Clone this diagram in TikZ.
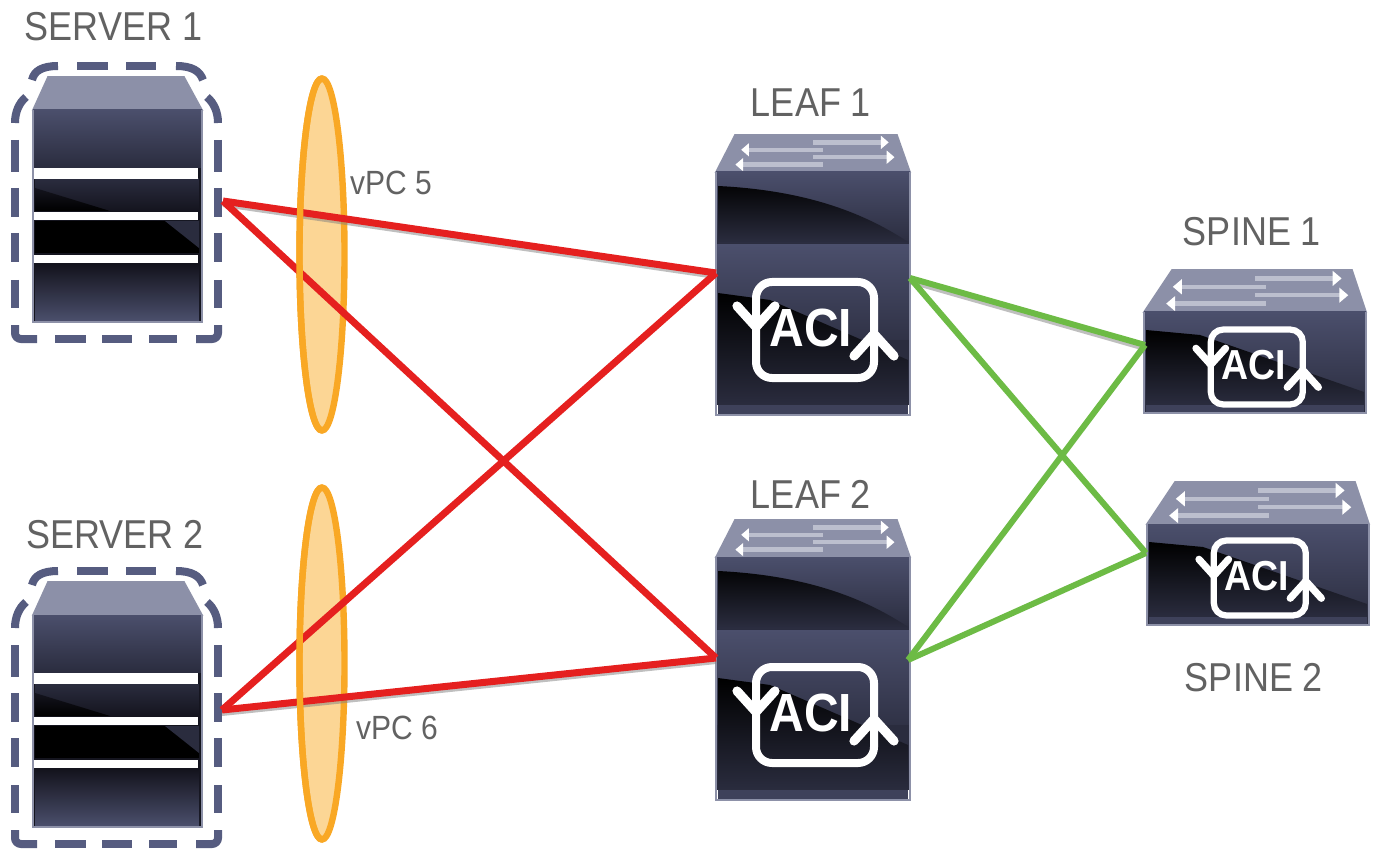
\documentclass[tikz,border=0pt]{standalone}
\usepackage{fontspec}
\setmainfont{Liberation Sans}
\usetikzlibrary{calc,shapes.geometric}
\definecolor{edgeg}{HTML}{8D91A8}
\definecolor{topg}{HTML}{8C90A8}
\definecolor{barg}{HTML}{BCBFCE}
\definecolor{bodyhi}{HTML}{4B4F6C}
\definecolor{bodymid}{HTML}{2A2C3E}
\definecolor{bodylo}{HTML}{14141E}
\definecolor{dashc}{HTML}{565C80}
\definecolor{redl}{HTML}{E5201F}
\definecolor{greenl}{HTML}{6DBB45}
\definecolor{orgl}{HTML}{F9A825}
\definecolor{orgf}{HTML}{FCD695}
\definecolor{labelc}{HTML}{626262}
\newcommand{\tallt}[1]{\scalebox{1}[1.12]{#1}}
\tikzset{
  x=0.5pt,y=-0.5pt,
  bigl/.style={text=labelc,font=\fontsize{18}{18}\selectfont,inner sep=0pt,anchor=center},
  smalll/.style={text=labelc,font=\fontsize{15}{15}\selectfont,inner sep=0pt,anchor=center},
  redlink/.style={draw=redl,line width=3.5pt},
  greenlink/.style={draw=greenl,line width=3pt},
  linkshadow/.style={draw=black!50,line width=2pt,opacity=.5},
  dashseg/.style={draw=dashc,line width=4pt},
  bundle/.style={draw=orgl,line width=3.2pt,fill=orgf,ellipse,minimum width=22.5pt,minimum height=176pt,inner sep=0pt,outer sep=0pt},
  rimline/.style={draw=orgl,line width=3.2pt},
}
% server: #1 = vertical offset in px
\newcommand{\serverbox}[1]{
\begin{scope}[yshift=-#1*0.5pt]
  \fill[topg,draw=edgeg,line width=.8pt] (48,77)--(184,77)--(202,110)--(33,110)--cycle;
  \shade[top color=bodyhi,bottom color=bodymid] (33,110) rectangle (202,168);
  \fill[bodylo] (33,168) rectangle (202,322);
  \shade[top color=bodymid,bottom color=bodylo] (35,179) rectangle (199,211);
  \shade[top color=bodylo,bottom color=black] (35,188)--(110,211)--(35,211)--cycle;
  \fill[black] (35,221) rectangle (199,253);
  \fill[bodymid] (165,221)--(199,221)--(199,248)--cycle;
  \shade[top color=bodylo,bottom color=bodyhi] (35,265) rectangle (199,321);
  \fill[white] (34,168) rectangle (198,179);
  \fill[white] (34,212) rectangle (198,220);
  \fill[white] (34,255) rectangle (198,263);
  \draw[edgeg,line width=1.2pt] (33,110)--(33,322)--(202,322)--(202,110);
  % dashed frame, dash by dash
  \draw[dashseg] (32,80) .. controls (34,71) and (42,66) .. (58,66);
  \draw[dashseg] (77,66)--(108,66) (126,66)--(156,66);
  \draw[dashseg] (176,66) .. controls (192,66) and (200,71) .. (203,80);
  \draw[dashseg] (15,123) .. controls (15,112) and (19,103) .. (26,97);
  \draw[dashseg] (207,97) .. controls (214,103) and (218,112) .. (218,123);
  \draw[dashseg] (15,140)--(15,172) (15,188)--(15,217) (15,233)--(15,262) (15,280)--(15,308);
  \draw[dashseg] (218,140)--(218,172) (218,188)--(218,217) (218,233)--(218,262) (218,280)--(218,308);
  \draw[dashseg,rounded corners=3pt] (15,325)--(15,339)--(37,339);
  \draw[dashseg] (55,339)--(86,339) (102,339)--(132,339) (149,339)--(177,339);
  \draw[dashseg,rounded corners=3pt] (196,339)--(218,339)--(218,325);
\end{scope}}
% arrows of a top face: x-left, x-right, y-top, y-bottom
\newcommand{\arrowbars}[4]{
  \pgfmathsetmacro{\xa}{#1}\pgfmathsetmacro{\xb}{#2}\pgfmathsetmacro{\ya}{#3}\pgfmathsetmacro{\yb}{#4}
  \pgfmathsetmacro{\xw}{\xb-\xa}\pgfmathsetmacro{\yh}{\yb-\ya}
  \begin{scope}[draw=barg,line width=2.2pt]
    \draw ({\xa+.50*\xw},{\ya+.20*\yh})--({\xa+.87*\xw},{\ya+.20*\yh});
    \draw ({\xa+.15*\xw},{\ya+.40*\yh})--({\xa+.55*\xw},{\ya+.40*\yh});
    \draw ({\xa+.50*\xw},{\ya+.60*\yh})--({\xa+.90*\xw},{\ya+.60*\yh});
    \draw ({\xa+.12*\xw},{\ya+.80*\yh})--({\xa+.55*\xw},{\ya+.80*\yh});
  \end{scope}
  \fill[white] ({\xa+.85*\xw},{\ya+.02*\yh})--({\xa+.89*\xw},{\ya+.20*\yh})--({\xa+.85*\xw},{\ya+.38*\yh})--cycle;
  \fill[white] ({\xa+.88*\xw},{\ya+.42*\yh})--({\xa+.92*\xw},{\ya+.60*\yh})--({\xa+.88*\xw},{\ya+.78*\yh})--cycle;
  \fill[white] ({\xa+.17*\xw},{\ya+.22*\yh})--({\xa+.13*\xw},{\ya+.40*\yh})--({\xa+.17*\xw},{\ya+.58*\yh})--cycle;
  \fill[white] ({\xa+.14*\xw},{\ya+.62*\yh})--({\xa+.10*\xw},{\ya+.80*\yh})--({\xa+.14*\xw},{\ya+.98*\yh})--cycle;
}
% aci loop: centre x, centre y, scale
\newcommand{\aciloop}[3]{
\pgfmathsetmacro{\acifs}{24*#3}
\pgfmathsetmacro{\aciw}{4*#3}
\pgfmathsetmacro{\aciaw}{4.6*#3}
\pgfmathsetmacro{\acir}{8*#3}
\begin{scope}[shift={(#1,#2)},scale=#3]
  \draw[white,line width=\aciw pt,rounded corners=\acir pt] (-58,-3)--(-58,-48)--(60,-48)--(60,4);
  \draw[white,line width=\aciw pt,rounded corners=\acir pt] (60,4)--(60,48)--(-58,48)--(-58,-3);
  \draw[white,line width=\aciaw pt,line cap=round,line join=round] (-77,-24)--(-58,-3)--(-39,-24);
  \draw[white,line width=\aciaw pt,line cap=round,line join=round] (40,26)--(60,4)--(80,26);
  \node[text=white,font=\bfseries\fontsize{\acifs}{\acifs}\selectfont,inner sep=0pt] at (-3,-2) {\tallt{ACI}};
\end{scope}}
% leaf: vertical offset
\newcommand{\leafdev}[1]{
\begin{scope}[yshift=-#1*0.5pt]
  \fill[topg,draw=edgeg,line width=.8pt] (735,135)--(897,135)--(910,172)--(716,172)--cycle;
  \arrowbars{716}{910}{135}{172}
  \shade[top color=bodyhi,bottom color=bodymid] (716,172) rectangle (910,245);
  \shade[top color=black!90!bodymid,bottom color=bodymid] (718,186) .. controls (800,190) and (860,210) .. (908,242)--(718,242)--cycle;
  \shade[top color=bodyhi,bottom color=bodymid] (716,245) rectangle (910,360);
  \fill[bodymid] (716,340) rectangle (910,405);
  \shade[top color=black,bottom color=bodymid] (718,293)--(770,300)--(908,360)--(908,405)--(718,405)--cycle;
  \fill[bodyhi!60!bodymid] (718,405) rectangle (908,414);
  \draw[edgeg,line width=1.2pt] (716,172)--(716,415)--(910,415)--(910,172);
  \aciloop{814}{330}{1}
\end{scope}}
% spine: x offset, y offset, loop centre x, loop centre y
\newcommand{\spinedev}[4]{
\begin{scope}[xshift=#1*0.5pt,yshift=-#2*0.5pt]
  \fill[topg,draw=edgeg,line width=.8pt] (1172,270)--(1352,270)--(1366,312)--(1144,312)--cycle;
  \arrowbars{1144}{1366}{270}{312}
  \shade[top color=bodyhi,bottom color=bodymid] (1144,312) rectangle (1366,413);
  \shade[top color=black,bottom color=bodymid] (1146,330)--(1200,335)--(1364,392)--(1364,405)--(1146,405)--cycle;
  \fill[bodyhi!60!bodymid] (1146,405) rectangle (1364,412);
  \draw[edgeg,line width=1.2pt] (1144,312)--(1144,413)--(1366,413)--(1366,312);
  \aciloop{#3}{#4}{.78}
\end{scope}}
\begin{document}
\begin{tikzpicture}
\useasboundingbox (0,0) rectangle (1376,850);
\fill[white] (0,0) rectangle (1376,850);

% servers
\serverbox{0}
\serverbox{505}
\node[bigl] (lbs1) at (113.5,27) {\tallt{SERVER 1}};
\node[bigl] (lbs2) at (115,535) {\tallt{SERVER 2}};

% leaves
\leafdev{0}
\leafdev{385}
\node[bigl] (lbl1) at (811,103) {\tallt{LEAF 1}};
\node[bigl] (lbl2) at (811,494) {\tallt{LEAF 2}};

% spines
\spinedev{0}{0}{1256}{367}
\spinedev{3}{212}{1256}{366}
\node[bigl] (lbsp1) at (1252,232) {\tallt{SPINE 1}};
\node[bigl] (lbsp2) at (1254,678) {\tallt{SPINE 2}};

% link end points
\coordinate (s1p) at (223,201);
\coordinate (s2p) at (222,710);
\coordinate (l1w) at (716,273);
\coordinate (l2w) at (716,658);
\coordinate (l1e) at (910,278);
\coordinate (l2e) at (908,660);
\coordinate (sp1w) at (1145,345);
\coordinate (sp2w) at (1146,553);

% port channels
\node[bundle] (vpc5) at (322,254.5) {};
\node[bundle] (vpc6) at (322,663.5) {};
\node[smalll] (lbv5) at (391,183) {\tallt{vPC 5}};
\node[smalll] (lbv6) at (397,728) {\tallt{vPC 6}};

% links
\draw[linkshadow] ($(s1p)+(0,4)$)--($(l1w)+(0,4)$);
\draw[linkshadow] ($(s2p)+(0,4)$)--($(l2w)+(0,4)$);
\draw[linkshadow] ($(l1e)+(0,4)$)--($(sp1w)+(0,4)$);
\draw[redlink] (s1p)--(l1w);
\draw[redlink] (s1p)--(l2w);
\draw[redlink] (s2p)--(l1w);
\draw[redlink] (s2p)--(l2w);
\draw[greenlink] (l1e)--(sp1w);
\draw[greenlink] (l1e)--(sp2w);
\draw[greenlink] (l2e)--(sp1w);
\draw[greenlink] (l2e)--(sp2w);

% left rim of the bundles passes over the links
\draw[rimline] (vpc5.north) arc[start angle=90,end angle=270,x radius=11.25pt,y radius=88pt];
\draw[rimline] (vpc6.north) arc[start angle=90,end angle=270,x radius=11.25pt,y radius=88pt];
\end{tikzpicture}
\end{document}
